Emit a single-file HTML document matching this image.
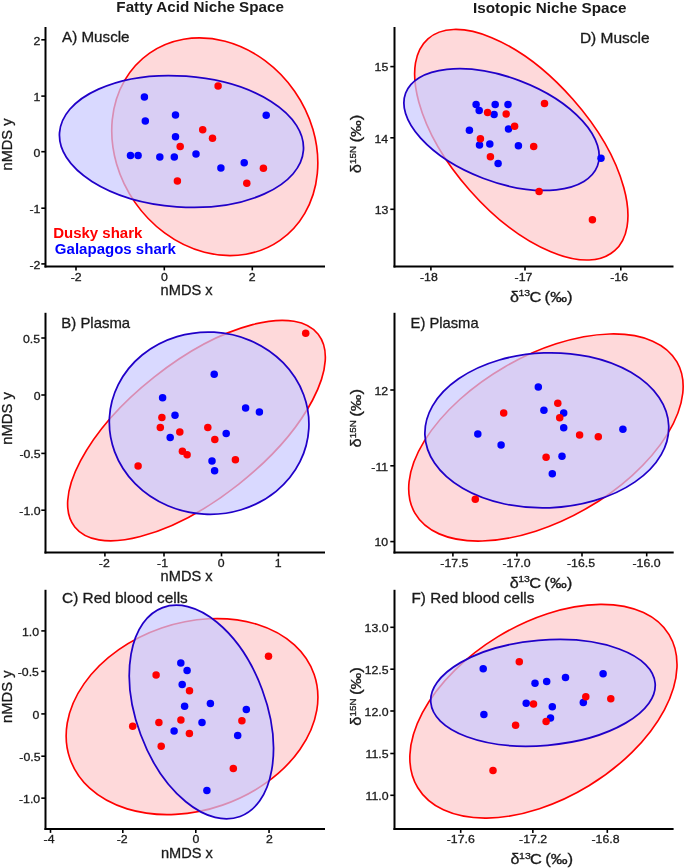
<!DOCTYPE html>
<html><head><meta charset="utf-8"><style>
html,body{margin:0;padding:0;background:#fff;}
svg{display:block;font-family:"Liberation Sans", sans-serif;}
svg{will-change:transform}
</style></head><body>
<svg width="685" height="868" viewBox="0 0 685 868" xmlns="http://www.w3.org/2000/svg">
<rect width="685" height="868" fill="#fff"/>
<ellipse cx="214.78" cy="146.78" rx="97.26" ry="114.06" transform="rotate(-34.85 214.78 146.78)" fill="#fed9da" stroke="#ff0000" stroke-width="1.65"/>
<ellipse cx="181.48" cy="141.49" rx="65.48" ry="122.27" transform="rotate(-85.87 181.48 141.49)" fill="rgba(201,201,255,0.7)" stroke="#2000c8" stroke-width="1.75"/>
<line x1="45.5" y1="27" x2="45.5" y2="267.5" stroke="#000" stroke-width="2.0"/>
<line x1="44.5" y1="266.5" x2="325" y2="266.5" stroke="#000" stroke-width="2.0"/>
<line x1="41.3" y1="39.8" x2="45.5" y2="39.8" stroke="#000" stroke-width="1.6"/>
<text x="33.57" y="44.6" font-size="11.5" textLength="6.84" lengthAdjust="spacingAndGlyphs" fill="#1a1a1a" stroke="#1a1a1a" stroke-width="0.3">2</text>
<line x1="41.3" y1="96.1" x2="45.5" y2="96.1" stroke="#000" stroke-width="1.6"/>
<text x="33.56" y="100.9" font-size="11.5" textLength="6.84" lengthAdjust="spacingAndGlyphs" fill="#1a1a1a" stroke="#1a1a1a" stroke-width="0.3">1</text>
<line x1="41.3" y1="151.7" x2="45.5" y2="151.7" stroke="#000" stroke-width="1.6"/>
<text x="33.44" y="156.5" font-size="11.5" textLength="6.84" lengthAdjust="spacingAndGlyphs" fill="#1a1a1a" stroke="#1a1a1a" stroke-width="0.3">0</text>
<line x1="41.3" y1="208.2" x2="45.5" y2="208.2" stroke="#000" stroke-width="1.6"/>
<text x="29.46" y="213" font-size="11.5" textLength="10.94" lengthAdjust="spacingAndGlyphs" fill="#1a1a1a" stroke="#1a1a1a" stroke-width="0.3">-1</text>
<line x1="41.3" y1="263.9" x2="45.5" y2="263.9" stroke="#000" stroke-width="1.6"/>
<text x="29.48" y="268.7" font-size="11.5" textLength="10.94" lengthAdjust="spacingAndGlyphs" fill="#1a1a1a" stroke="#1a1a1a" stroke-width="0.3">-2</text>
<line x1="76" y1="266.5" x2="76" y2="270.4" stroke="#000" stroke-width="1.6"/>
<text x="70.67" y="280.9" font-size="11.5" textLength="10.94" lengthAdjust="spacingAndGlyphs" fill="#1a1a1a" stroke="#1a1a1a" stroke-width="0.3">-2</text>
<line x1="164.3" y1="266.5" x2="164.3" y2="270.4" stroke="#000" stroke-width="1.6"/>
<text x="160.98" y="280.9" font-size="11.5" textLength="6.84" lengthAdjust="spacingAndGlyphs" fill="#1a1a1a" stroke="#1a1a1a" stroke-width="0.3">0</text>
<line x1="252.3" y1="266.5" x2="252.3" y2="270.4" stroke="#000" stroke-width="1.6"/>
<text x="248.88" y="280.9" font-size="11.5" textLength="6.84" lengthAdjust="spacingAndGlyphs" fill="#1a1a1a" stroke="#1a1a1a" stroke-width="0.3">2</text>
<circle cx="144.4" cy="97.1" r="3.75" fill="#0000ff"/>
<circle cx="145.3" cy="121.1" r="3.75" fill="#0000ff"/>
<circle cx="175.5" cy="115.1" r="3.75" fill="#0000ff"/>
<circle cx="175.5" cy="136.8" r="3.75" fill="#0000ff"/>
<circle cx="130.5" cy="155.5" r="3.75" fill="#0000ff"/>
<circle cx="138.1" cy="155.5" r="3.75" fill="#0000ff"/>
<circle cx="159.8" cy="157" r="3.75" fill="#0000ff"/>
<circle cx="174.3" cy="157" r="3.75" fill="#0000ff"/>
<circle cx="196" cy="154" r="3.75" fill="#0000ff"/>
<circle cx="220.9" cy="168" r="3.75" fill="#0000ff"/>
<circle cx="244.2" cy="162.7" r="3.75" fill="#0000ff"/>
<circle cx="266.2" cy="115.3" r="3.75" fill="#0000ff"/>
<circle cx="218.1" cy="86.1" r="3.75" fill="#ff0000"/>
<circle cx="202.7" cy="129.8" r="3.75" fill="#ff0000"/>
<circle cx="212.5" cy="138.2" r="3.75" fill="#ff0000"/>
<circle cx="180.2" cy="146.4" r="3.75" fill="#ff0000"/>
<circle cx="177.4" cy="180.9" r="3.75" fill="#ff0000"/>
<circle cx="263.4" cy="168.3" r="3.75" fill="#ff0000"/>
<circle cx="246.8" cy="183.2" r="3.75" fill="#ff0000"/>
<ellipse cx="196.48" cy="430.58" rx="155.25" ry="68.25" transform="rotate(-38.38 196.48 430.58)" fill="#fed9da" stroke="#ff0000" stroke-width="1.65"/>
<ellipse cx="209.12" cy="423.16" rx="91.08" ry="99.84" transform="rotate(-86.88 209.12 423.16)" fill="rgba(201,201,255,0.7)" stroke="#2000c8" stroke-width="1.75"/>
<line x1="45.5" y1="312.8" x2="45.5" y2="553.5" stroke="#000" stroke-width="2.0"/>
<line x1="44.5" y1="552.5" x2="325" y2="552.5" stroke="#000" stroke-width="2.0"/>
<line x1="41.3" y1="338" x2="45.5" y2="338" stroke="#000" stroke-width="1.6"/>
<text x="23.01" y="342.8" font-size="11.5" textLength="17.11" lengthAdjust="spacingAndGlyphs" fill="#1a1a1a" stroke="#1a1a1a" stroke-width="0.3">0.5</text>
<line x1="41.3" y1="395" x2="45.5" y2="395" stroke="#000" stroke-width="1.6"/>
<text x="33.84" y="399.8" font-size="11.5" textLength="6.84" lengthAdjust="spacingAndGlyphs" fill="#1a1a1a" stroke="#1a1a1a" stroke-width="0.3">0</text>
<line x1="41.3" y1="453.4" x2="45.5" y2="453.4" stroke="#000" stroke-width="1.6"/>
<text x="19.42" y="458.2" font-size="11.5" textLength="21.2" lengthAdjust="spacingAndGlyphs" fill="#1a1a1a" stroke="#1a1a1a" stroke-width="0.3">-0.5</text>
<line x1="41.3" y1="510.2" x2="45.5" y2="510.2" stroke="#000" stroke-width="1.6"/>
<text x="19.38" y="515" font-size="11.5" textLength="21.2" lengthAdjust="spacingAndGlyphs" fill="#1a1a1a" stroke="#1a1a1a" stroke-width="0.3">-1.0</text>
<line x1="104.9" y1="552.5" x2="104.9" y2="556.4" stroke="#000" stroke-width="1.6"/>
<text x="98.82" y="566.9" font-size="11.5" textLength="10.94" lengthAdjust="spacingAndGlyphs" fill="#1a1a1a" stroke="#1a1a1a" stroke-width="0.3">-2</text>
<line x1="164" y1="552.5" x2="164" y2="556.4" stroke="#000" stroke-width="1.6"/>
<text x="157.06" y="566.9" font-size="11.5" textLength="10.94" lengthAdjust="spacingAndGlyphs" fill="#1a1a1a" stroke="#1a1a1a" stroke-width="0.3">-1</text>
<line x1="221.5" y1="552.5" x2="221.5" y2="556.4" stroke="#000" stroke-width="1.6"/>
<text x="217.73" y="566.9" font-size="11.5" textLength="6.84" lengthAdjust="spacingAndGlyphs" fill="#1a1a1a" stroke="#1a1a1a" stroke-width="0.3">0</text>
<line x1="278.4" y1="552.5" x2="278.4" y2="556.4" stroke="#000" stroke-width="1.6"/>
<text x="274.81" y="566.9" font-size="11.5" textLength="6.84" lengthAdjust="spacingAndGlyphs" fill="#1a1a1a" stroke="#1a1a1a" stroke-width="0.3">1</text>
<circle cx="214.2" cy="374.2" r="3.75" fill="#0000ff"/>
<circle cx="162.6" cy="397.8" r="3.75" fill="#0000ff"/>
<circle cx="245.6" cy="408" r="3.75" fill="#0000ff"/>
<circle cx="259.4" cy="411.9" r="3.75" fill="#0000ff"/>
<circle cx="175" cy="415.3" r="3.75" fill="#0000ff"/>
<circle cx="226.2" cy="433.4" r="3.75" fill="#0000ff"/>
<circle cx="170.2" cy="437.4" r="3.75" fill="#0000ff"/>
<circle cx="212" cy="460.9" r="3.75" fill="#0000ff"/>
<circle cx="214.6" cy="470.7" r="3.75" fill="#0000ff"/>
<circle cx="305.7" cy="333.2" r="3.75" fill="#ff0000"/>
<circle cx="161.9" cy="417.6" r="3.75" fill="#ff0000"/>
<circle cx="160.3" cy="427.5" r="3.75" fill="#ff0000"/>
<circle cx="207.8" cy="427.4" r="3.75" fill="#ff0000"/>
<circle cx="179.8" cy="432.1" r="3.75" fill="#ff0000"/>
<circle cx="214.8" cy="439.4" r="3.75" fill="#ff0000"/>
<circle cx="182.4" cy="451.3" r="3.75" fill="#ff0000"/>
<circle cx="187.1" cy="454.8" r="3.75" fill="#ff0000"/>
<circle cx="138.1" cy="466" r="3.75" fill="#ff0000"/>
<circle cx="235.4" cy="459.7" r="3.75" fill="#ff0000"/>
<ellipse cx="192.03" cy="716.56" rx="129.16" ry="93.63" transform="rotate(-18.97 192.03 716.56)" fill="#fed9da" stroke="#ff0000" stroke-width="1.65"/>
<ellipse cx="201.38" cy="712.01" rx="64.78" ry="111.39" transform="rotate(-20.35 201.38 712.01)" fill="rgba(201,201,255,0.7)" stroke="#2000c8" stroke-width="1.75"/>
<line x1="45.5" y1="589.8" x2="45.5" y2="830" stroke="#000" stroke-width="2.0"/>
<line x1="44.5" y1="829" x2="325" y2="829" stroke="#000" stroke-width="2.0"/>
<line x1="41.3" y1="630.9" x2="45.5" y2="630.9" stroke="#000" stroke-width="1.6"/>
<text x="22.03" y="635.7" font-size="11.5" textLength="17.11" lengthAdjust="spacingAndGlyphs" fill="#1a1a1a" stroke="#1a1a1a" stroke-width="0.3">1.0</text>
<line x1="41.3" y1="671.35" x2="45.5" y2="671.35" stroke="#000" stroke-width="1.6"/>
<text x="17.72" y="676.15" font-size="11.5" textLength="21.2" lengthAdjust="spacingAndGlyphs" fill="#1a1a1a" stroke="#1a1a1a" stroke-width="0.3">-0.5</text>
<line x1="41.3" y1="713.9" x2="45.5" y2="713.9" stroke="#000" stroke-width="1.6"/>
<text x="32.44" y="718.7" font-size="11.5" textLength="6.84" lengthAdjust="spacingAndGlyphs" fill="#1a1a1a" stroke="#1a1a1a" stroke-width="0.3">0</text>
<line x1="41.3" y1="756.2" x2="45.5" y2="756.2" stroke="#000" stroke-width="1.6"/>
<text x="19.37" y="761" font-size="11.5" textLength="21.2" lengthAdjust="spacingAndGlyphs" fill="#1a1a1a" stroke="#1a1a1a" stroke-width="0.3">-0.5</text>
<line x1="41.3" y1="798.15" x2="45.5" y2="798.15" stroke="#000" stroke-width="1.6"/>
<text x="18.98" y="802.95" font-size="11.5" textLength="21.2" lengthAdjust="spacingAndGlyphs" fill="#1a1a1a" stroke="#1a1a1a" stroke-width="0.3">-1.0</text>
<line x1="50.5" y1="829" x2="50.5" y2="832.9" stroke="#000" stroke-width="1.6"/>
<text x="43.64" y="843.4" font-size="11.5" textLength="10.94" lengthAdjust="spacingAndGlyphs" fill="#1a1a1a" stroke="#1a1a1a" stroke-width="0.3">-4</text>
<line x1="122.8" y1="829" x2="122.8" y2="832.9" stroke="#000" stroke-width="1.6"/>
<text x="116.77" y="843.4" font-size="11.5" textLength="10.94" lengthAdjust="spacingAndGlyphs" fill="#1a1a1a" stroke="#1a1a1a" stroke-width="0.3">-2</text>
<line x1="195.8" y1="829" x2="195.8" y2="832.9" stroke="#000" stroke-width="1.6"/>
<text x="192.63" y="843.4" font-size="11.5" textLength="6.84" lengthAdjust="spacingAndGlyphs" fill="#1a1a1a" stroke="#1a1a1a" stroke-width="0.3">0</text>
<line x1="269.05" y1="829" x2="269.05" y2="832.9" stroke="#000" stroke-width="1.6"/>
<text x="265.98" y="843.4" font-size="11.5" textLength="6.84" lengthAdjust="spacingAndGlyphs" fill="#1a1a1a" stroke="#1a1a1a" stroke-width="0.3">2</text>
<circle cx="180.8" cy="662.9" r="3.75" fill="#0000ff"/>
<circle cx="187.1" cy="670.6" r="3.75" fill="#0000ff"/>
<circle cx="182.2" cy="684.6" r="3.75" fill="#0000ff"/>
<circle cx="210.4" cy="703.5" r="3.75" fill="#0000ff"/>
<circle cx="184.6" cy="706.2" r="3.75" fill="#0000ff"/>
<circle cx="246.3" cy="709.6" r="3.75" fill="#0000ff"/>
<circle cx="202" cy="722.4" r="3.75" fill="#0000ff"/>
<circle cx="174.1" cy="731.1" r="3.75" fill="#0000ff"/>
<circle cx="237.7" cy="735.5" r="3.75" fill="#0000ff"/>
<circle cx="206.9" cy="790.4" r="3.75" fill="#0000ff"/>
<circle cx="268.5" cy="656.3" r="3.75" fill="#ff0000"/>
<circle cx="156.1" cy="675" r="3.75" fill="#ff0000"/>
<circle cx="189.5" cy="690.7" r="3.75" fill="#ff0000"/>
<circle cx="180.9" cy="720" r="3.75" fill="#ff0000"/>
<circle cx="158.9" cy="722.4" r="3.75" fill="#ff0000"/>
<circle cx="241.9" cy="720.8" r="3.75" fill="#ff0000"/>
<circle cx="132.7" cy="726.2" r="3.75" fill="#ff0000"/>
<circle cx="189.4" cy="733.4" r="3.75" fill="#ff0000"/>
<circle cx="161.2" cy="746.3" r="3.75" fill="#ff0000"/>
<circle cx="233.3" cy="768.4" r="3.75" fill="#ff0000"/>
<ellipse cx="521.29" cy="144.74" rx="68.75" ry="141.22" transform="rotate(-41.38 521.29 144.74)" fill="#fed9da" stroke="#ff0000" stroke-width="1.65"/>
<ellipse cx="501.55" cy="129.54" rx="52.09" ry="102.61" transform="rotate(-69.15 501.55 129.54)" fill="rgba(201,201,255,0.7)" stroke="#2000c8" stroke-width="1.75"/>
<line x1="394.5" y1="27" x2="394.5" y2="267.5" stroke="#000" stroke-width="2.0"/>
<line x1="393.5" y1="266.5" x2="673.5" y2="266.5" stroke="#000" stroke-width="2.0"/>
<line x1="390.3" y1="66.6" x2="394.5" y2="66.6" stroke="#000" stroke-width="1.6"/>
<text x="374.63" y="71.4" font-size="11.5" textLength="13.69" lengthAdjust="spacingAndGlyphs" fill="#1a1a1a" stroke="#1a1a1a" stroke-width="0.3">15</text>
<line x1="390.3" y1="137.8" x2="394.5" y2="137.8" stroke="#000" stroke-width="1.6"/>
<text x="374.47" y="142.6" font-size="11.5" textLength="13.69" lengthAdjust="spacingAndGlyphs" fill="#1a1a1a" stroke="#1a1a1a" stroke-width="0.3">14</text>
<line x1="390.3" y1="209.3" x2="394.5" y2="209.3" stroke="#000" stroke-width="1.6"/>
<text x="374.66" y="214.1" font-size="11.5" textLength="13.69" lengthAdjust="spacingAndGlyphs" fill="#1a1a1a" stroke="#1a1a1a" stroke-width="0.3">13</text>
<line x1="430.9" y1="266.5" x2="430.9" y2="270.4" stroke="#000" stroke-width="1.6"/>
<text x="420" y="280.9" font-size="11.5" textLength="17.78" lengthAdjust="spacingAndGlyphs" fill="#1a1a1a" stroke="#1a1a1a" stroke-width="0.3">-18</text>
<line x1="525" y1="266.5" x2="525" y2="270.4" stroke="#000" stroke-width="1.6"/>
<text x="514.55" y="280.9" font-size="11.5" textLength="17.78" lengthAdjust="spacingAndGlyphs" fill="#1a1a1a" stroke="#1a1a1a" stroke-width="0.3">-17</text>
<line x1="620.8" y1="266.5" x2="620.8" y2="270.4" stroke="#000" stroke-width="1.6"/>
<text x="610.21" y="280.9" font-size="11.5" textLength="17.78" lengthAdjust="spacingAndGlyphs" fill="#1a1a1a" stroke="#1a1a1a" stroke-width="0.3">-16</text>
<circle cx="476.1" cy="104.4" r="3.75" fill="#0000ff"/>
<circle cx="495.2" cy="104.5" r="3.75" fill="#0000ff"/>
<circle cx="479.2" cy="110.6" r="3.75" fill="#0000ff"/>
<circle cx="494.1" cy="114.5" r="3.75" fill="#0000ff"/>
<circle cx="508" cy="104.6" r="3.75" fill="#0000ff"/>
<circle cx="469.4" cy="130.3" r="3.75" fill="#0000ff"/>
<circle cx="479.5" cy="145" r="3.75" fill="#0000ff"/>
<circle cx="489.8" cy="143.9" r="3.75" fill="#0000ff"/>
<circle cx="508.5" cy="128.9" r="3.75" fill="#0000ff"/>
<circle cx="518.4" cy="145.8" r="3.75" fill="#0000ff"/>
<circle cx="498.1" cy="163.4" r="3.75" fill="#0000ff"/>
<circle cx="601" cy="158.2" r="3.75" fill="#0000ff"/>
<circle cx="487.6" cy="112.5" r="3.75" fill="#ff0000"/>
<circle cx="506.2" cy="113.9" r="3.75" fill="#ff0000"/>
<circle cx="544.5" cy="103.4" r="3.75" fill="#ff0000"/>
<circle cx="514.6" cy="126.3" r="3.75" fill="#ff0000"/>
<circle cx="480.4" cy="138.7" r="3.75" fill="#ff0000"/>
<circle cx="490.4" cy="156.7" r="3.75" fill="#ff0000"/>
<circle cx="533.7" cy="146.4" r="3.75" fill="#ff0000"/>
<circle cx="539.1" cy="191.4" r="3.75" fill="#ff0000"/>
<circle cx="592.4" cy="219.7" r="3.75" fill="#ff0000"/>
<ellipse cx="545.92" cy="437.51" rx="151.25" ry="81.77" transform="rotate(-29.99 545.92 437.51)" fill="#fed9da" stroke="#ff0000" stroke-width="1.65"/>
<ellipse cx="546.81" cy="430.34" rx="121.98" ry="77.49" transform="rotate(-182.14 546.81 430.34)" fill="rgba(201,201,255,0.7)" stroke="#2000c8" stroke-width="1.75"/>
<line x1="394.5" y1="312.8" x2="394.5" y2="553.5" stroke="#000" stroke-width="2.0"/>
<line x1="393.5" y1="552.5" x2="673.7" y2="552.5" stroke="#000" stroke-width="2.0"/>
<line x1="390.3" y1="390" x2="394.5" y2="390" stroke="#000" stroke-width="1.6"/>
<text x="374.53" y="394.8" font-size="11.5" textLength="13.69" lengthAdjust="spacingAndGlyphs" fill="#1a1a1a" stroke="#1a1a1a" stroke-width="0.3">12</text>
<line x1="390.3" y1="465.8" x2="394.5" y2="465.8" stroke="#000" stroke-width="1.6"/>
<text x="371.33" y="470.6" font-size="11.5" textLength="16.87" lengthAdjust="spacingAndGlyphs" fill="#1a1a1a" stroke="#1a1a1a" stroke-width="0.3">-11</text>
<line x1="390.3" y1="541.6" x2="394.5" y2="541.6" stroke="#000" stroke-width="1.6"/>
<text x="374.4" y="546.4" font-size="11.5" textLength="13.69" lengthAdjust="spacingAndGlyphs" fill="#1a1a1a" stroke="#1a1a1a" stroke-width="0.3">10</text>
<line x1="452.9" y1="552.5" x2="452.9" y2="556.4" stroke="#000" stroke-width="1.6"/>
<text x="440.37" y="566.9" font-size="11.5" textLength="28.05" lengthAdjust="spacingAndGlyphs" fill="#1a1a1a" stroke="#1a1a1a" stroke-width="0.3">-17.5</text>
<line x1="516.9" y1="552.5" x2="516.9" y2="556.4" stroke="#000" stroke-width="1.6"/>
<text x="502.45" y="566.9" font-size="11.5" textLength="28.05" lengthAdjust="spacingAndGlyphs" fill="#1a1a1a" stroke="#1a1a1a" stroke-width="0.3">-17.0</text>
<line x1="582" y1="552.5" x2="582" y2="556.4" stroke="#000" stroke-width="1.6"/>
<text x="566.97" y="566.9" font-size="11.5" textLength="28.05" lengthAdjust="spacingAndGlyphs" fill="#1a1a1a" stroke="#1a1a1a" stroke-width="0.3">-16.5</text>
<line x1="646.7" y1="552.5" x2="646.7" y2="556.4" stroke="#000" stroke-width="1.6"/>
<text x="632.45" y="566.9" font-size="11.5" textLength="28.05" lengthAdjust="spacingAndGlyphs" fill="#1a1a1a" stroke="#1a1a1a" stroke-width="0.3">-16.0</text>
<circle cx="538.3" cy="387" r="3.75" fill="#0000ff"/>
<circle cx="543.9" cy="410.3" r="3.75" fill="#0000ff"/>
<circle cx="563.7" cy="413" r="3.75" fill="#0000ff"/>
<circle cx="477.8" cy="434.1" r="3.75" fill="#0000ff"/>
<circle cx="501.1" cy="444.9" r="3.75" fill="#0000ff"/>
<circle cx="563.7" cy="427.7" r="3.75" fill="#0000ff"/>
<circle cx="622.9" cy="429.2" r="3.75" fill="#0000ff"/>
<circle cx="552.3" cy="473.8" r="3.75" fill="#0000ff"/>
<circle cx="562" cy="456.3" r="3.75" fill="#0000ff"/>
<circle cx="503.7" cy="413.1" r="3.75" fill="#ff0000"/>
<circle cx="557.8" cy="403.3" r="3.75" fill="#ff0000"/>
<circle cx="559.7" cy="417.7" r="3.75" fill="#ff0000"/>
<circle cx="579.6" cy="434.9" r="3.75" fill="#ff0000"/>
<circle cx="598.3" cy="436.8" r="3.75" fill="#ff0000"/>
<circle cx="546.1" cy="457.2" r="3.75" fill="#ff0000"/>
<circle cx="475.3" cy="499.3" r="3.75" fill="#ff0000"/>
<ellipse cx="543.43" cy="711.21" rx="147.13" ry="87.32" transform="rotate(-31.37 543.43 711.21)" fill="#fed9da" stroke="#ff0000" stroke-width="1.65"/>
<ellipse cx="542.97" cy="692.87" rx="112.58" ry="52.61" transform="rotate(-4.91 542.97 692.87)" fill="rgba(201,201,255,0.7)" stroke="#2000c8" stroke-width="1.75"/>
<line x1="394.5" y1="589.8" x2="394.5" y2="830" stroke="#000" stroke-width="2.0"/>
<line x1="393.5" y1="829" x2="673.6" y2="829" stroke="#000" stroke-width="2.0"/>
<line x1="390.3" y1="627.3" x2="394.5" y2="627.3" stroke="#000" stroke-width="1.6"/>
<text x="364.63" y="632.1" font-size="11.5" textLength="23.95" lengthAdjust="spacingAndGlyphs" fill="#1a1a1a" stroke="#1a1a1a" stroke-width="0.3">13.0</text>
<line x1="390.3" y1="669.2" x2="394.5" y2="669.2" stroke="#000" stroke-width="1.6"/>
<text x="364.67" y="674" font-size="11.5" textLength="23.95" lengthAdjust="spacingAndGlyphs" fill="#1a1a1a" stroke="#1a1a1a" stroke-width="0.3">12.5</text>
<line x1="390.3" y1="711" x2="394.5" y2="711" stroke="#000" stroke-width="1.6"/>
<text x="364.63" y="715.8" font-size="11.5" textLength="23.95" lengthAdjust="spacingAndGlyphs" fill="#1a1a1a" stroke="#1a1a1a" stroke-width="0.3">12.0</text>
<line x1="390.3" y1="753.5" x2="394.5" y2="753.5" stroke="#000" stroke-width="1.6"/>
<text x="365.58" y="758.3" font-size="11.5" textLength="23.04" lengthAdjust="spacingAndGlyphs" fill="#1a1a1a" stroke="#1a1a1a" stroke-width="0.3">11.5</text>
<line x1="390.3" y1="795.3" x2="394.5" y2="795.3" stroke="#000" stroke-width="1.6"/>
<text x="365.54" y="800.1" font-size="11.5" textLength="23.04" lengthAdjust="spacingAndGlyphs" fill="#1a1a1a" stroke="#1a1a1a" stroke-width="0.3">11.0</text>
<line x1="460.7" y1="829" x2="460.7" y2="832.9" stroke="#000" stroke-width="1.6"/>
<text x="446.78" y="843.4" font-size="11.5" textLength="28.05" lengthAdjust="spacingAndGlyphs" fill="#1a1a1a" stroke="#1a1a1a" stroke-width="0.3">-17.6</text>
<line x1="532.85" y1="829" x2="532.85" y2="832.9" stroke="#000" stroke-width="1.6"/>
<text x="519.12" y="843.4" font-size="11.5" textLength="28.05" lengthAdjust="spacingAndGlyphs" fill="#1a1a1a" stroke="#1a1a1a" stroke-width="0.3">-17.2</text>
<line x1="607.3" y1="829" x2="607.3" y2="832.9" stroke="#000" stroke-width="1.6"/>
<text x="591.52" y="843.4" font-size="11.5" textLength="28.05" lengthAdjust="spacingAndGlyphs" fill="#1a1a1a" stroke="#1a1a1a" stroke-width="0.3">-16.8</text>
<circle cx="483.2" cy="668.8" r="3.75" fill="#0000ff"/>
<circle cx="483.9" cy="714.4" r="3.75" fill="#0000ff"/>
<circle cx="535" cy="683.2" r="3.75" fill="#0000ff"/>
<circle cx="546.7" cy="681.5" r="3.75" fill="#0000ff"/>
<circle cx="565.5" cy="677.5" r="3.75" fill="#0000ff"/>
<circle cx="603.1" cy="673.8" r="3.75" fill="#0000ff"/>
<circle cx="583.3" cy="702.6" r="3.75" fill="#0000ff"/>
<circle cx="526.2" cy="703.2" r="3.75" fill="#0000ff"/>
<circle cx="552.3" cy="706.7" r="3.75" fill="#0000ff"/>
<circle cx="550.5" cy="718" r="3.75" fill="#0000ff"/>
<circle cx="519.3" cy="661.7" r="3.75" fill="#ff0000"/>
<circle cx="585.8" cy="696.7" r="3.75" fill="#ff0000"/>
<circle cx="610.8" cy="698.7" r="3.75" fill="#ff0000"/>
<circle cx="533.5" cy="703.9" r="3.75" fill="#ff0000"/>
<circle cx="546.1" cy="721.5" r="3.75" fill="#ff0000"/>
<circle cx="515.6" cy="725.3" r="3.75" fill="#ff0000"/>
<circle cx="493" cy="770.5" r="3.75" fill="#ff0000"/>
<text x="116.38" y="11.8" font-size="15" font-weight="bold" textLength="167.54" lengthAdjust="spacingAndGlyphs" fill="#1a1a1a">Fatty Acid Niche Space</text>
<text x="473.08" y="13.4" font-size="15" font-weight="bold" textLength="153.45" lengthAdjust="spacingAndGlyphs" fill="#1a1a1a">Isotopic Niche Space</text>
<text x="62.07" y="41.8" font-size="14.5" textLength="67.5" lengthAdjust="spacingAndGlyphs" fill="#1a1a1a" stroke="#1a1a1a" stroke-width="0.3">A) Muscle</text>
<text x="61.38" y="328.3" font-size="14.5" textLength="68.73" lengthAdjust="spacingAndGlyphs" fill="#1a1a1a" stroke="#1a1a1a" stroke-width="0.3">B) Plasma</text>
<text x="62.02" y="603.1" font-size="14.5" textLength="125.75" lengthAdjust="spacingAndGlyphs" fill="#1a1a1a" stroke="#1a1a1a" stroke-width="0.3">C) Red blood cells</text>
<text x="579.93" y="42.5" font-size="14.5" textLength="69.66" lengthAdjust="spacingAndGlyphs" fill="#1a1a1a" stroke="#1a1a1a" stroke-width="0.3">D) Muscle</text>
<text x="410.59" y="327.9" font-size="14.5" textLength="68.01" lengthAdjust="spacingAndGlyphs" fill="#1a1a1a" stroke="#1a1a1a" stroke-width="0.3">E) Plasma</text>
<text x="411.55" y="603.1" font-size="14.5" textLength="122.8" lengthAdjust="spacingAndGlyphs" fill="#1a1a1a" stroke="#1a1a1a" stroke-width="0.3">F) Red blood cells</text>
<text x="53.2" y="237.7" font-size="15" font-weight="bold" textLength="89.19" lengthAdjust="spacingAndGlyphs" fill="#ff0000">Dusky shark</text>
<text x="54.88" y="253.5" font-size="15" font-weight="bold" textLength="121.1" lengthAdjust="spacingAndGlyphs" fill="#0000ff">Galapagos shark</text>
<text x="160.64" y="294.8" font-size="14.5" textLength="51.93" lengthAdjust="spacingAndGlyphs" fill="#1a1a1a" stroke="#1a1a1a" stroke-width="0.3">nMDS x</text>
<text x="160.64" y="580.8" font-size="14.5" textLength="51.93" lengthAdjust="spacingAndGlyphs" fill="#1a1a1a" stroke="#1a1a1a" stroke-width="0.3">nMDS x</text>
<text x="160.94" y="857.9" font-size="14.5" textLength="51.93" lengthAdjust="spacingAndGlyphs" fill="#1a1a1a" stroke="#1a1a1a" stroke-width="0.3">nMDS x</text>
<g transform="translate(11.8 169.5) rotate(-90)"><text x="-0.96" y="0" font-size="14.5" textLength="51.89" lengthAdjust="spacingAndGlyphs" fill="#1a1a1a" stroke="#1a1a1a" stroke-width="0.3">nMDS y</text></g>
<g transform="translate(11.8 443.9) rotate(-90)"><text x="-0.98" y="0" font-size="14.5" textLength="52.81" lengthAdjust="spacingAndGlyphs" fill="#1a1a1a" stroke="#1a1a1a" stroke-width="0.3">nMDS y</text></g>
<g transform="translate(11.8 722) rotate(-90)"><text x="-0.97" y="0" font-size="14.5" textLength="52.51" lengthAdjust="spacingAndGlyphs" fill="#1a1a1a" stroke="#1a1a1a" stroke-width="0.3">nMDS y</text></g>
<text x="509.92" y="301.5" font-size="14.5" textLength="8.96" lengthAdjust="spacingAndGlyphs" fill="#1a1a1a" stroke="#1a1a1a" stroke-width="0.3">δ</text>
<text x="518.5" y="296" font-size="8.6" textLength="11.66" lengthAdjust="spacingAndGlyphs" fill="#1a1a1a" stroke="#1a1a1a" stroke-width="0.3">13</text>
<text x="529.46" y="301.5" font-size="14.5" textLength="11.87" lengthAdjust="spacingAndGlyphs" fill="#1a1a1a" stroke="#1a1a1a" stroke-width="0.3">C</text>
<text x="544.55" y="301.5" font-size="14.5" textLength="28.09" lengthAdjust="spacingAndGlyphs" fill="#1a1a1a" stroke="#1a1a1a" stroke-width="0.3">(‰)</text>
<text x="509.72" y="587.5" font-size="14.5" textLength="8.96" lengthAdjust="spacingAndGlyphs" fill="#1a1a1a" stroke="#1a1a1a" stroke-width="0.3">δ</text>
<text x="518.3" y="582" font-size="8.6" textLength="11.66" lengthAdjust="spacingAndGlyphs" fill="#1a1a1a" stroke="#1a1a1a" stroke-width="0.3">13</text>
<text x="529.26" y="587.5" font-size="14.5" textLength="11.87" lengthAdjust="spacingAndGlyphs" fill="#1a1a1a" stroke="#1a1a1a" stroke-width="0.3">C</text>
<text x="544.35" y="587.5" font-size="14.5" textLength="28.09" lengthAdjust="spacingAndGlyphs" fill="#1a1a1a" stroke="#1a1a1a" stroke-width="0.3">(‰)</text>
<text x="510.52" y="864.2" font-size="14.5" textLength="8.96" lengthAdjust="spacingAndGlyphs" fill="#1a1a1a" stroke="#1a1a1a" stroke-width="0.3">δ</text>
<text x="519.1" y="858.7" font-size="8.6" textLength="11.66" lengthAdjust="spacingAndGlyphs" fill="#1a1a1a" stroke="#1a1a1a" stroke-width="0.3">13</text>
<text x="530.06" y="864.2" font-size="14.5" textLength="11.87" lengthAdjust="spacingAndGlyphs" fill="#1a1a1a" stroke="#1a1a1a" stroke-width="0.3">C</text>
<text x="545.15" y="864.2" font-size="14.5" textLength="28.09" lengthAdjust="spacingAndGlyphs" fill="#1a1a1a" stroke="#1a1a1a" stroke-width="0.3">(‰)</text>
<g transform="translate(360.8 172.5) rotate(-90)"><text x="-0.69" y="0" font-size="14.5" textLength="9.08" lengthAdjust="spacingAndGlyphs" fill="#1a1a1a" stroke="#1a1a1a" stroke-width="0.3">δ</text><text x="8.55" y="-4.4" font-size="9.3" textLength="18.05" lengthAdjust="spacingAndGlyphs" fill="#1a1a1a" stroke="#1a1a1a" stroke-width="0.3">15N</text><text x="29.96" y="0" font-size="14.5" textLength="27.98" lengthAdjust="spacingAndGlyphs" fill="#1a1a1a" stroke="#1a1a1a" stroke-width="0.3">(‰)</text></g>
<g transform="translate(360.8 446.8) rotate(-90)"><text x="-0.69" y="0" font-size="14.5" textLength="9.08" lengthAdjust="spacingAndGlyphs" fill="#1a1a1a" stroke="#1a1a1a" stroke-width="0.3">δ</text><text x="8.55" y="-4.4" font-size="9.3" textLength="18.05" lengthAdjust="spacingAndGlyphs" fill="#1a1a1a" stroke="#1a1a1a" stroke-width="0.3">15N</text><text x="29.96" y="0" font-size="14.5" textLength="27.98" lengthAdjust="spacingAndGlyphs" fill="#1a1a1a" stroke="#1a1a1a" stroke-width="0.3">(‰)</text></g>
<g transform="translate(360.8 725) rotate(-90)"><text x="-0.69" y="0" font-size="14.5" textLength="9.08" lengthAdjust="spacingAndGlyphs" fill="#1a1a1a" stroke="#1a1a1a" stroke-width="0.3">δ</text><text x="8.55" y="-4.4" font-size="9.3" textLength="18.05" lengthAdjust="spacingAndGlyphs" fill="#1a1a1a" stroke="#1a1a1a" stroke-width="0.3">15N</text><text x="29.96" y="0" font-size="14.5" textLength="27.98" lengthAdjust="spacingAndGlyphs" fill="#1a1a1a" stroke="#1a1a1a" stroke-width="0.3">(‰)</text></g>
</svg></body></html>
